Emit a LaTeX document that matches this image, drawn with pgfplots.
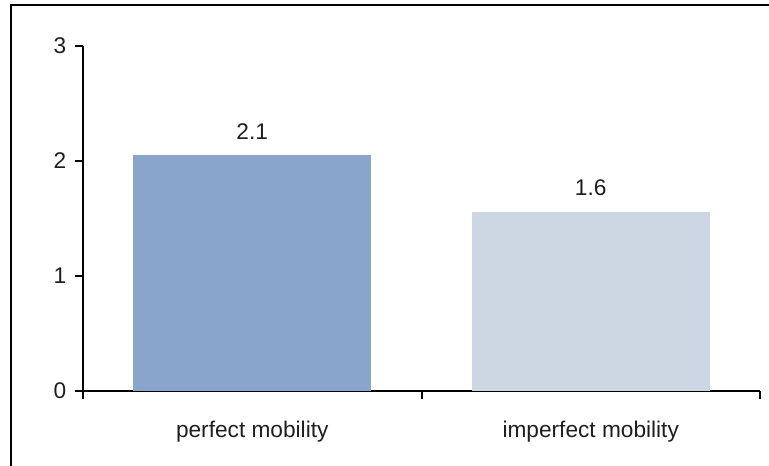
\documentclass[border=0pt]{standalone}
\usepackage{pgfplots}
\pgfplotsset{compat=1.18}
\usepackage{fontspec}
\setmainfont{Liberation Sans}
\definecolor{barA}{RGB}{137,165,203}
\definecolor{barB}{RGB}{204,215,227}
\definecolor{txt}{RGB}{30,30,30}
\begin{document}
\begin{tikzpicture}
\useasboundingbox (0,0) rectangle (576.75pt,349.5pt);
\draw[line width=1.5pt] (8.25pt,0) -- (8.25pt,345.75pt) -- (576.75pt,345.75pt);
\begin{axis}[
  at={(62.25pt,56.25pt)}, anchor=south west,
  scale only axis, width=507.75pt, height=258.75pt,
  xmin=0, xmax=2, ymin=0, ymax=3,
  axis x line=bottom, axis y line=left,
  axis line style={line width=1.5pt, -},
  ytick={0,1,2,3},
  tick align=outside,
  major tick length=6pt,
  tick style={line width=1.5pt, black},
  xtick={0,1,2}, xticklabels={,,},
  extra x ticks={0.5,1.5},
  extra x tick labels={perfect mobility, imperfect mobility},
  extra x tick style={major tick length=0pt, tick style={draw=none},
     xticklabel style={yshift=-19pt}},
  /pgf/number format/assume math mode=true,
  ticklabel style={font=\fontsize{17}{20}\selectfont, text=txt},
  yticklabel style={xshift=-3pt},
  ybar, bar width=178.5pt, bar shift=0pt,
  point meta=explicit symbolic,
  nodes near coords,
  every node near coord/.append style={font=\fontsize{17}{20}\selectfont, text=txt, yshift=8pt},
]
\addplot[fill=barA, draw=none] coordinates {(0.5,2.05) [2.1]};
\addplot[fill=barB, draw=none] coordinates {(1.5,1.56) [1.6]};
\end{axis}
\end{tikzpicture}
\end{document}
